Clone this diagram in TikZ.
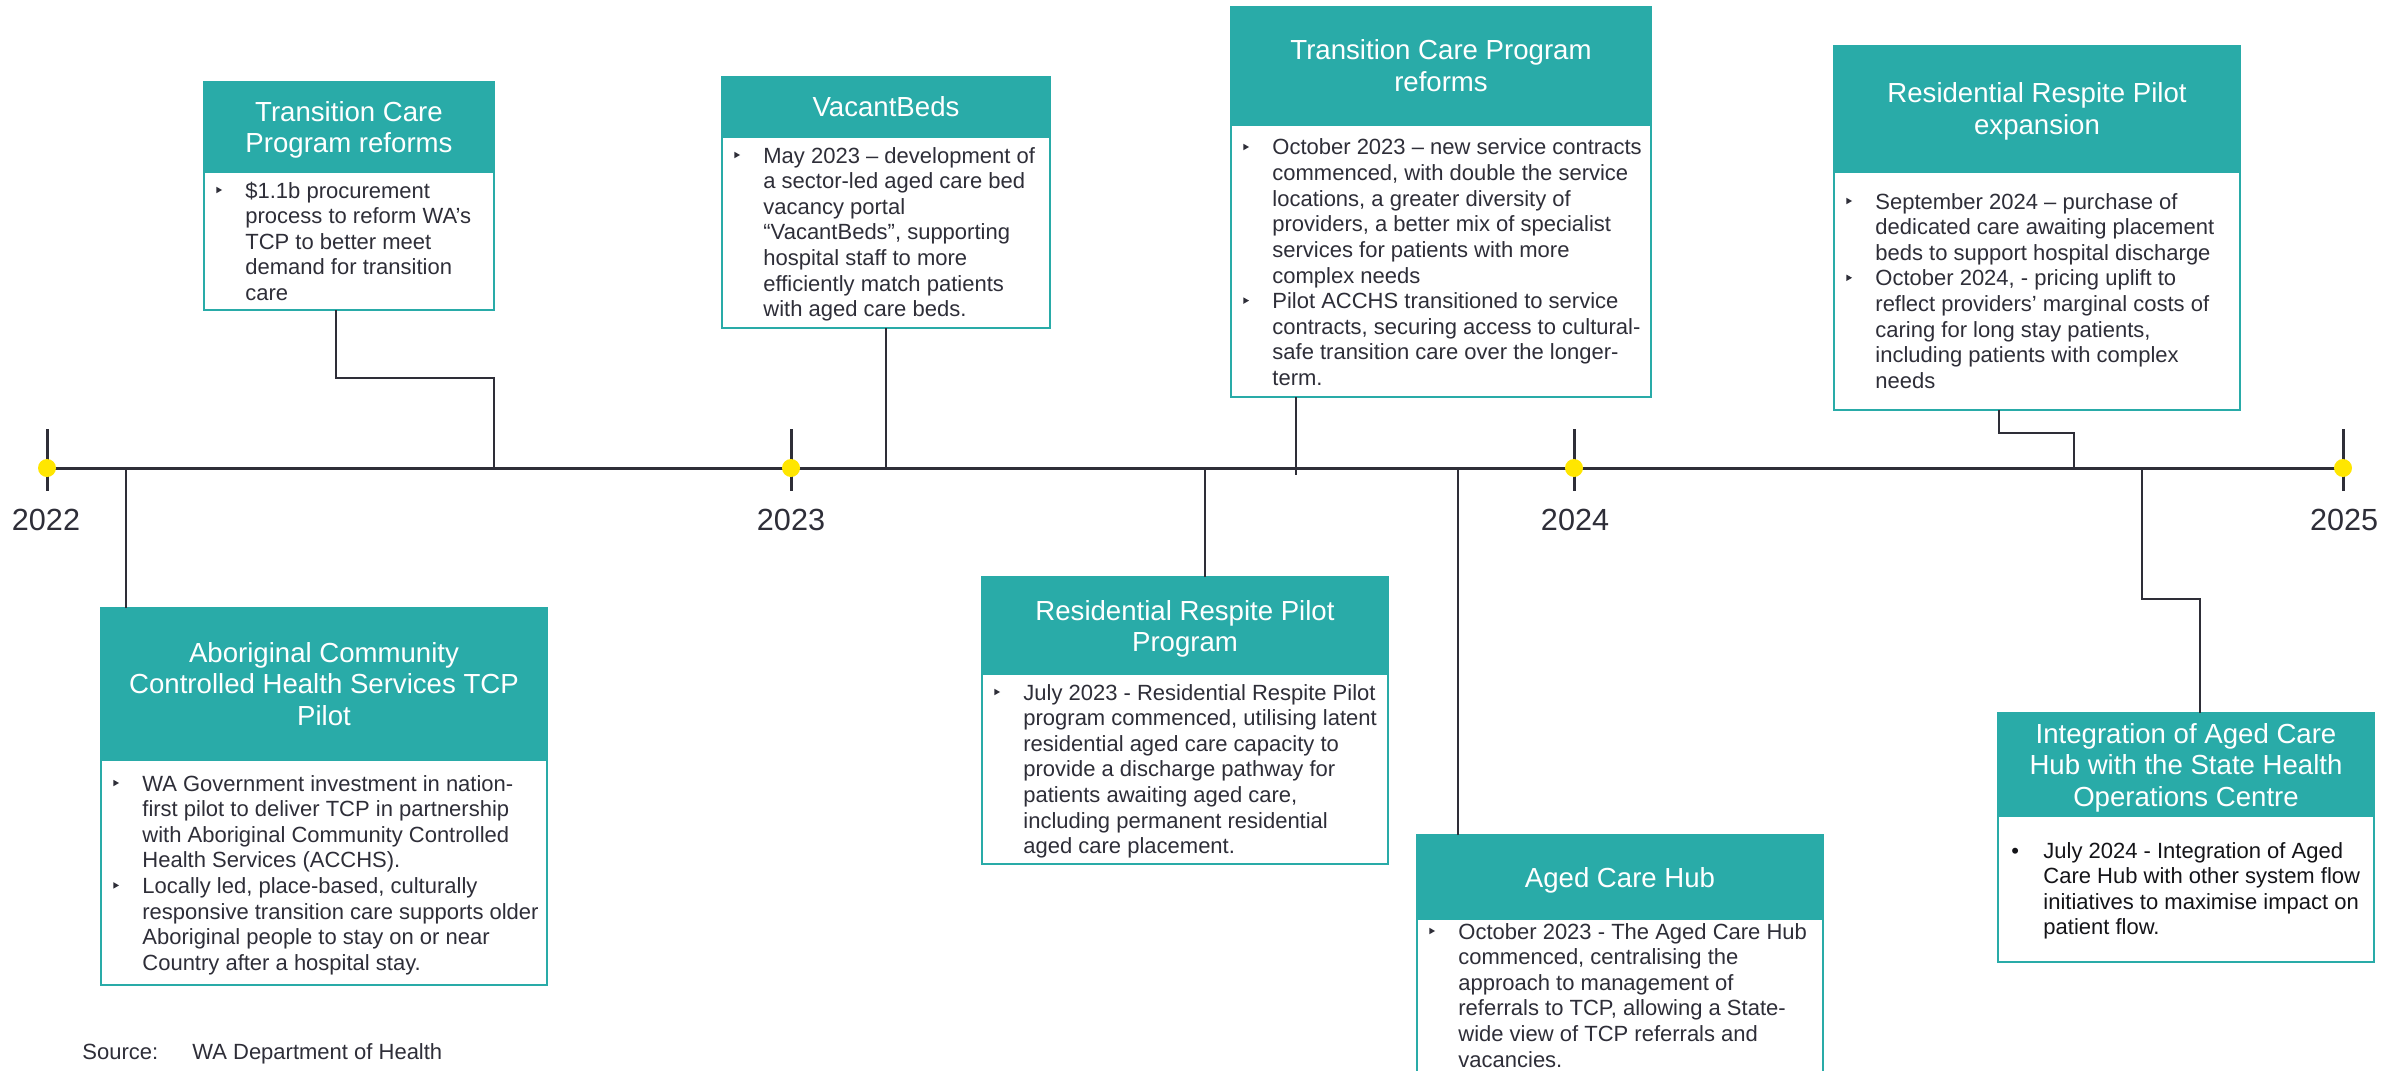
\documentclass[tikz,border=0pt]{standalone}
\usepackage{fontspec}
\setmainfont{Liberation Sans}
\usetikzlibrary{calc}

\definecolor{eyteal}{RGB}{41,171,168}
\definecolor{eyink}{RGB}{46,46,56}
\definecolor{eyblack}{RGB}{20,20,24}
\definecolor{eyyellow}{RGB}{255,230,0}

\newcommand\bodyfont{\fontsize{11}{12.8}\selectfont}
\newcommand\titlefont{\fontsize{13.8}{15.8}\selectfont}
\newcommand\yearfont{\fontsize{15.3}{18}\selectfont}
% small triangular bullet
\newcommand\tri{\tikz[baseline=0pt]\fill[eyink] (0pt,2.4pt) -- (0pt,5.6pt) -- (2.8pt,4pt) -- cycle;}
\newcommand\bl{\makebox[14.5pt][l]{\tri}}
\newcommand\rb{\makebox[16pt][l]{\textbullet}}

\tikzset{
  head/.style={anchor=north west, fill=eyteal, draw=eyteal, line width=1pt, inner sep=0pt, outer sep=0pt},
  panel/.style={anchor=north west, fill=white, draw=eyteal, line width=1.2pt, inner sep=0pt, outer sep=0pt},
  ttl/.style={anchor=base, text=white, font=\titlefont, inner sep=0pt},
  txt/.style={anchor=base west, text=eyink, font=\bodyfont, inner sep=0pt},
  yr/.style={anchor=base, text=eyink, font=\yearfont, inner sep=0pt},
  conn/.style={draw=eyink, line width=1.1pt},
  axisline/.style={draw=eyink, line width=1.5pt},
  tickmark/.style={draw=eyink, line width=1.5pt},
  dot/.style={circle, fill=eyyellow, minimum size=9pt, inner sep=0pt},
}

\begin{document}
\begin{tikzpicture}[x=0.5pt, y=-0.5pt]
\useasboundingbox (0,0) rectangle (2407,1070);
\clip (0,0) rectangle (2407,1070);
\fill[white] (0,0) rectangle (2407,1070);

% ---------------- time axis ----------------
\coordinate (y22) at (47,468);
\coordinate (y23) at (791,468);
\coordinate (y24) at (1574,468);
\coordinate (y25) at (2343,468);

\foreach \c in {y22,y23,y24,y25}
  \draw[tickmark] ($(\c)+(0,-39)$) -- ($(\c)+(0,23)$);
\draw[axisline] (y22) -- (y25);

% points where the connectors meet the axis
\coordinate (a1) at (494,468);
\coordinate (a2) at (886,468);
\coordinate (a3) at (1296,475);
\coordinate (a4) at (2074,468);
\coordinate (a5) at (126,468);
\coordinate (a6) at (1205,468);
\coordinate (a7) at (1458,468);
\coordinate (a8) at (2142,468);

% ---------------- boxes above the axis ----------------
% Transition Care Program reforms (2022)
\node[head, minimum width=145pt, minimum height=45pt] (h1) at (204,82) {};
\node[panel, minimum width=145pt, minimum height=69pt] (b1) at (204,172) {};
\node[ttl] (t1) at (349,121) {\begin{tabular}[t]{@{}c@{}}Transition Care\\Program reforms\end{tabular}};
\node[txt] (x1) at (216,198) {\begin{tabular}[t]{@{}l@{}l@{}}
\bl & \$1.1b procurement\\
 & process to reform WA’s\\
 & TCP to better meet\\
 & demand for transition\\
 & care
\end{tabular}};

% VacantBeds
\node[head, minimum width=164pt, minimum height=30pt] (h2) at (722,77) {};
\node[panel, minimum width=164pt, minimum height=95.5pt] (b2) at (722,137) {};
\node[ttl] (t2) at (886,117) {VacantBeds};
\node[txt] (x2) at (734,163) {\begin{tabular}[t]{@{}l@{}l@{}}
\bl & May 2023 – development of\\
 & a sector-led aged care bed\\
 & vacancy portal\\
 & “VacantBeds”, supporting\\
 & hospital staff to more\\
 & efficiently match patients\\
 & with aged care beds.
\end{tabular}};

% Transition Care Program reforms (2023)
\node[head, minimum width=210pt, minimum height=59pt] (h3) at (1231,7) {};
\node[panel, minimum width=210pt, minimum height=136pt] (b3) at (1231,125) {};
\node[ttl] (t3) at (1441,60) {\begin{tabular}[t]{@{}c@{}}Transition Care Program\\reforms\end{tabular}};
\node[txt] (x3) at (1243,155) {\begin{tabular}[t]{@{}l@{}l@{}}
\bl & October 2023 – new service contracts\\
 & commenced, with double the service\\
 & locations, a greater diversity of\\
 & providers, a better mix of specialist\\
 & services for patients with more\\
 & complex needs\\
\bl & Pilot ACCHS transitioned to service\\
 & contracts, securing access to cultural-\\
 & safe transition care over the longer-\\
 & term.
\end{tabular}};

% Residential Respite Pilot expansion
\node[head, minimum width=203pt, minimum height=63pt] (h4) at (1834,46) {};
\node[panel, minimum width=203pt, minimum height=119pt] (b4) at (1834,172) {};
\node[ttl] (t4) at (2037,103) {\begin{tabular}[t]{@{}c@{}}Residential Respite Pilot\\expansion\end{tabular}};
\node[txt] (x4) at (1846,209) {\begin{tabular}[t]{@{}l@{}l@{}}
\bl & September 2024 – purchase of\\
 & dedicated care awaiting placement\\
 & beds to support hospital discharge\\
\bl & October 2024, - pricing uplift to\\
 & reflect providers’ marginal costs of\\
 & caring for long stay patients,\\
 & including patients with complex\\
 & needs
\end{tabular}};

% ---------------- boxes below the axis ----------------
% Aboriginal Community Controlled Health Services TCP Pilot
\node[head, minimum width=223pt, minimum height=76pt] (h5) at (101,608) {};
\node[panel, minimum width=223pt, minimum height=112.5pt] (b5) at (101,760) {};
\node[ttl] (t5) at (324,662) {\begin{tabular}[t]{@{}c@{}}Aboriginal Community\\Controlled Health Services TCP\\Pilot\end{tabular}};
\node[txt] (x5) at (113,791) {\begin{tabular}[t]{@{}l@{}l@{}}
\bl & WA Government investment in nation-\\
 & first pilot to deliver TCP in partnership\\
 & with Aboriginal Community Controlled\\
 & Health Services (ACCHS).\\
\bl & Locally led, place-based, culturally\\
 & responsive transition care supports older\\
 & Aboriginal people to stay on or near\\
 & Country after a hospital stay.
\end{tabular}};

% Residential Respite Pilot Program
\node[head, minimum width=203pt, minimum height=48.5pt] (h6) at (982,577) {};
\node[panel, minimum width=203pt, minimum height=95pt] (b6) at (982,674) {};
\node[ttl] (t6) at (1185,620) {\begin{tabular}[t]{@{}c@{}}Residential Respite Pilot\\Program\end{tabular}};
\node[txt] (x6) at (994,700) {\begin{tabular}[t]{@{}l@{}l@{}}
\bl & July 2023 - Residential Respite Pilot\\
 & program commenced, utilising latent\\
 & residential aged care capacity to\\
 & provide a discharge pathway for\\
 & patients awaiting aged care,\\
 & including permanent residential\\
 & aged care placement.
\end{tabular}};

% Aged Care Hub
\node[head, minimum width=203pt, minimum height=42pt] (h7) at (1417,835) {};
\node[panel, minimum width=203pt, minimum height=100pt] (b7) at (1417,919) {};
\node[ttl] (t7) at (1620,887) {Aged Care Hub};
\node[txt] (x7) at (1429,939) {\begin{tabular}[t]{@{}l@{}l@{}}
\bl & October 2023 - The Aged Care Hub\\
 & commenced, centralising the\\
 & approach to management of\\
 & referrals to TCP, allowing a State-\\
 & wide view of TCP referrals and\\
 & vacancies.
\end{tabular}};

% Integration of Aged Care Hub with the State Health Operations Centre
\node[head, minimum width=188pt, minimum height=51.5pt] (h8) at (1998,713) {};
\node[panel, minimum width=188pt, minimum height=73pt] (b8) at (1998,816) {};
\node[ttl] (t8) at (2186,743) {\begin{tabular}[t]{@{}c@{}}Integration of Aged Care\\Hub with the State Health\\Operations Centre\end{tabular}};
\node[txt, text=eyblack] (x8) at (2011,858) {\begin{tabular}[t]{@{}l@{}l@{}}
\rb & July 2024 - Integration of Aged\\
 & Care Hub with other system flow\\
 & initiatives to maximise impact on\\
 & patient flow.
\end{tabular}};

% ---------------- connectors ----------------
\draw[conn] (b1.south -| 336,0) -- (336,378) -| (a1);
\draw[conn] (b2.south -| a2) -- (a2);
\draw[conn] (b3.south -| a3) -- (a3);
\draw[conn] (b4.south -| 1999,0) -- (1999,433) -| (a4);
\draw[conn] (a5) -- (h5.north -| a5);
\draw[conn] (a6) -- (h6.north -| a6);
\draw[conn] (a7) -- (h7.north -| a7);
\draw[conn] (a8) -- (2142,599) -| (h8.north -| 2200,0);

% ---------------- year markers ----------------
\node[dot] (d22) at (y22) {};
\node[dot] (d23) at (y23) {};
\node[dot] (d24) at (y24) {};
\node[dot] (d25) at (y25) {};
\node[yr] (l22) at (46,530) {2022};
\node[yr] (l23) at (791,530) {2023};
\node[yr] (l24) at (1575,530) {2024};
\node[yr] (l25) at (2344,530) {2025};

% ---------------- source ----------------
\node[txt] (src) at (82,1059) {Source:};
\node[txt] (srcv) at (192,1059) {WA Department of Health};
\end{tikzpicture}
\end{document}
